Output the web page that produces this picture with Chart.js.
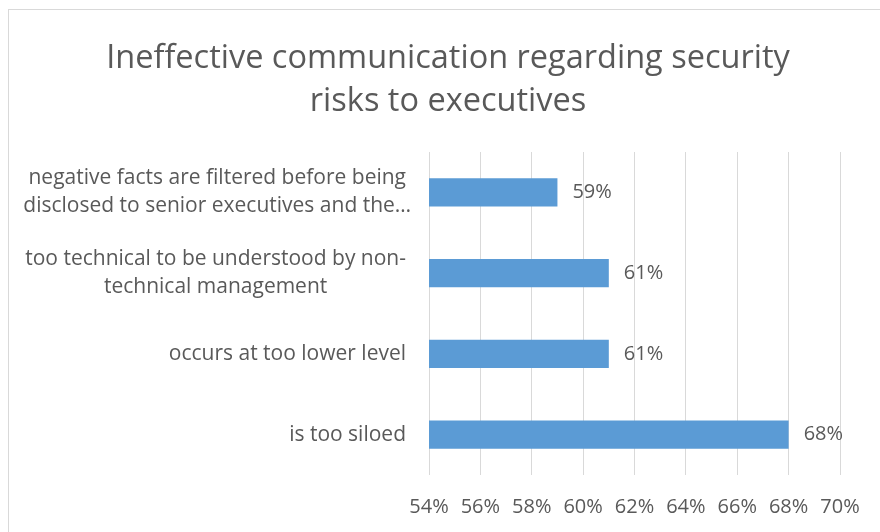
<!DOCTYPE html>
<html>
<head>
<meta charset="utf-8">
<script src="https://cdn.jsdelivr.net/npm/chart.js@4/dist/chart.umd.min.js"></script>
<style>
  html, body { margin: 0; padding: 0; background: #fff; overflow: hidden; }
  #wrap { width: 880px; height: 532px; }
</style>
</head>
<body>
<div id="wrap"><canvas id="chart" width="880" height="532"></canvas></div>
<script>
var categories = [
  ['negative facts are filtered before being', 'disclosed to senior executives and the\u2026'],
  ['too technical to be understood by non-', 'technical management'],
  ['occurs at too lower level'],
  ['is too siloed']
];
var values = [59, 61, 61, 68];
var axisMin = 54;
var axisMax = 70;
var axisStep = 2;
var titleLines = ['Ineffective communication regarding security', 'risks to executives'];

var textColor = '#595959';
var gridColor = '#d9d9d9';
var barColor = '#5b9bd5';
var family = "'Open Sans', sans-serif";

// frame round the whole chart, like the office chart box
var framePlugin = {
  id: 'frame',
  beforeDraw: function(chart) {
    var ctx = chart.ctx;
    ctx.save();
    ctx.strokeStyle = gridColor;
    ctx.lineWidth = 1;
    ctx.strokeRect(8.5, 9.5, 1000, 1000);
    ctx.restore();
  }
};

// category labels: lines centred inside a block that is right aligned to the axis
var catLabels = {
  id: 'catLabels',
  afterDraw: function(chart) {
    var ctx = chart.ctx;
    var y = chart.scales.y;
    var right = chart.chartArea.left - 23;
    var lh = 28;
    ctx.save();
    ctx.font = '21px ' + family;
    ctx.fillStyle = textColor;
    ctx.textBaseline = 'middle';
    ctx.textAlign = 'center';
    categories.forEach(function(lines, i) {
      // trailing ellipsis hangs past the right edge, as in the office chart
      var widest = 0;
      lines.forEach(function(l) { widest = Math.max(widest, ctx.measureText(l.replace(/\u2026$/, '')).width); });
      var cx = right - widest / 2;
      var cy = y.getPixelForValue(i) - (lines.length - 1) * lh / 2;
      lines.forEach(function(l, k) { ctx.fillText(l, cx, cy + k * lh); });
    });
    ctx.restore();
  }
};

// value labels just past the end of each bar
var valueLabels = {
  id: 'valueLabels',
  afterDatasetsDraw: function(chart) {
    var ctx = chart.ctx;
    var meta = chart.getDatasetMeta(0);
    ctx.save();
    ctx.font = '20px ' + family;
    ctx.fillStyle = textColor;
    ctx.textBaseline = 'middle';
    ctx.textAlign = 'left';
    meta.data.forEach(function(bar, i) {
      ctx.fillText(values[i] + '%', bar.x + 15, bar.y);
    });
    ctx.restore();
  }
};

new Chart(document.getElementById('chart'), {
  type: 'bar',
  data: {
    labels: categories,
    datasets: [{
      data: values,
      backgroundColor: barColor,
      borderWidth: 0,
      barPercentage: 0.35,
      categoryPercentage: 1
    }]
  },
  options: {
    indexAxis: 'y',
    responsive: false,
    animation: false,
    layout: { padding: { left: 56, right: 40, top: 0, bottom: 0 } },
    plugins: {
      legend: { display: false },
      tooltip: { enabled: false },
      title: {
        display: true,
        text: titleLines,
        color: textColor,
        font: { family: family, size: 32.5, weight: 'normal', lineHeight: 43 / 32.5 },
        padding: { top: 37, bottom: 29 }
      }
    },
    scales: {
      x: {
        min: axisMin,
        max: axisMax,
        grid: { color: gridColor, drawTicks: false },
        border: { display: false },
        ticks: {
          stepSize: axisStep,
          padding: 20,
          maxRotation: 0,
          color: textColor,
          font: { family: family, size: 20 },
          callback: function(v) { return v + '%'; }
        },
        afterFit: function(scale) { scale.height = 57; }
      },
      y: {
        grid: { display: false },
        border: { display: false },
        ticks: { display: false },
        afterFit: function(scale) { scale.width = 373; }
      }
    }
  },
  plugins: [framePlugin, catLabels, valueLabels]
});
</script>
</body>
</html>
